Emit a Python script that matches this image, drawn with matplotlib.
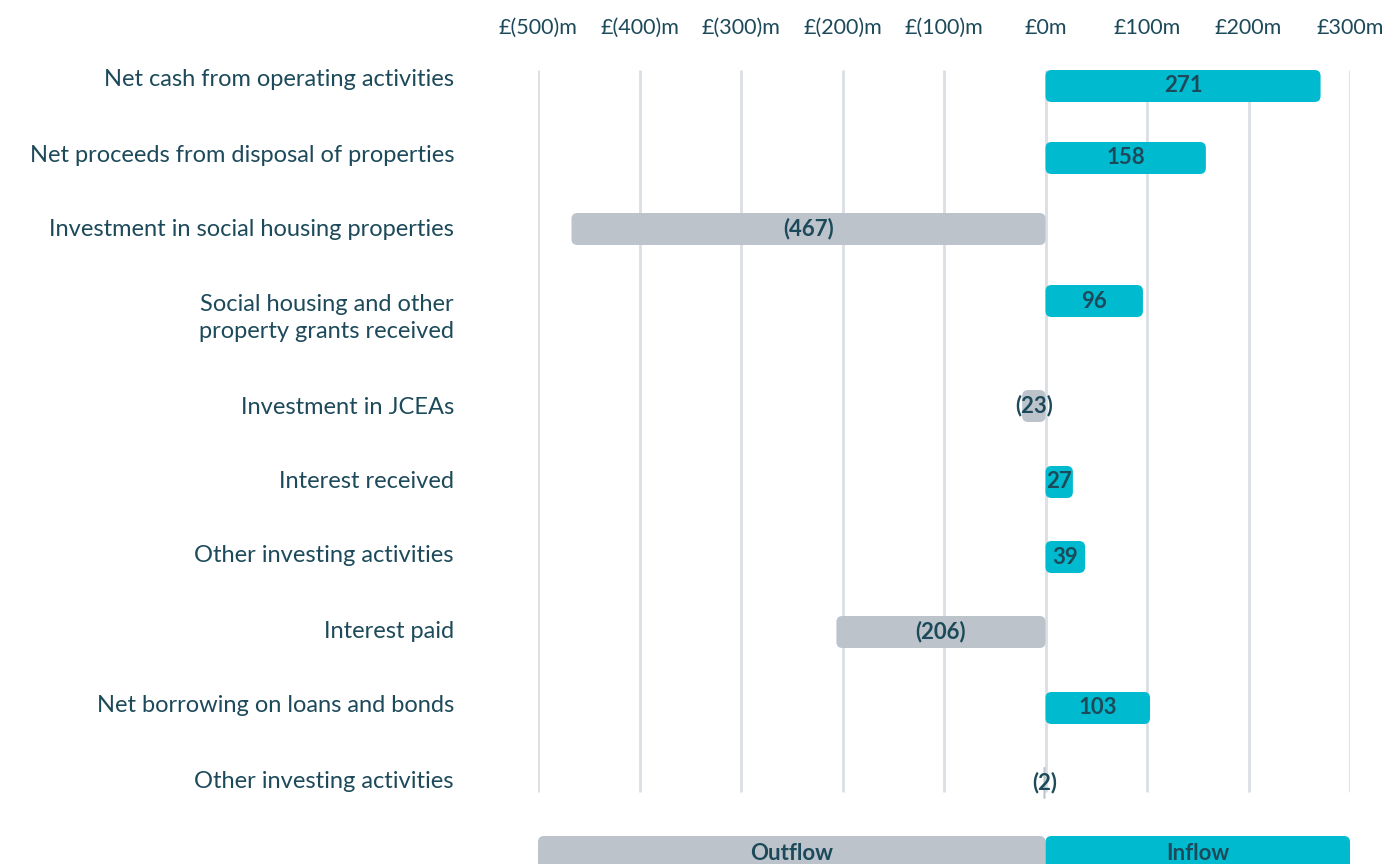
import matplotlib
matplotlib.use("Agg")
import matplotlib.pyplot as plt
from matplotlib.patches import FancyBboxPatch

categories = [
    "Net cash from operating activities",
    "Net proceeds from disposal of properties",
    "Investment in social housing properties",
    "Social housing and other\nproperty grants received",
    "Investment in JCEAs",
    "Interest received",
    "Other investing activities",
    "Interest paid",
    "Net borrowing on loans and bonds",
    "Other investing activities",
]
values = [271, 158, -467, 96, -23, 27, 39, -206, 103, -2]
tick_values = [-500, -400, -300, -200, -100, 0, 100, 200, 300]
tick_labels = ["£(500)m", "£(400)m", "£(300)m", "£(200)m", "£(100)m",
               "£0m", "£100m", "£200m", "£300m"]
legend_labels = ["Outflow", "Inflow"]

# layout (pixel-like units, y downwards)
bar_rows = [86, 158, 229, 301, 406, 482, 557, 632, 708, 783]
label_rows = [80, 155, 229, 318, 407, 482, 556, 631, 706, 781]
bar_h = 32

CYAN = "#00BBD0"
GREY = "#BCC3CB"
TEXT = "#1D4A5A"
GRID = "#DADFE3"
FONT = ["Lato", "DejaVu Sans"]

W, H = 1399, 864
fig = plt.figure(figsize=(W / 100, H / 100), dpi=100)
ax = fig.add_axes([538 / W, 0, 812 / W, 1])
ax.set_xlim(-500, 300)
ax.set_ylim(H, 0)
ax.axis("off")

xpp = 800 / 812  # data x per pixel
r_px = 6


def rbar(x0, width, yc, h, color):
    w = abs(width)
    left = min(x0, x0 + width)
    r = min(r_px * xpp, w / 2)
    p = FancyBboxPatch((left, yc - h / 2), w, h,
                       boxstyle=f"round,pad=0,rounding_size={r}",
                       mutation_aspect=1 / xpp if r > 0 else 1,
                       facecolor=color, edgecolor="none", zorder=3)
    ax.add_patch(p)


# grid
for t in tick_values:
    ax.plot([t, t], [70, 792], color=GRID, lw=2, zorder=1, solid_capstyle="butt")
for t, lab in zip(tick_values, tick_labels):
    ax.text(t, 28, lab, ha="center", va="center", fontsize=15.5, color=TEXT,
            family=FONT)

for v, yb, yl, cat in zip(values, bar_rows, label_rows, categories):
    color = CYAN if v >= 0 else GREY
    rbar(0, v, yb, bar_h, color)
    txt = f"{v}" if v >= 0 else f"({-v})"
    ax.text(v / 2, yb, txt, ha="center", va="center", fontsize=16,
            fontweight="bold", color=TEXT, family=FONT, zorder=4)
    ax.text(-500 - 84 * xpp, yl, cat, ha="right", va="center", fontsize=17,
            color=TEXT, family=FONT, linespacing=1.4, clip_on=False)

# legend bars at bottom
rbar(-500, 500, 858, 44, GREY)
rbar(0, 300, 858, 44, CYAN)
ax.text(-250, 853, legend_labels[0], ha="center", va="center", fontsize=16,
        fontweight="bold", color=TEXT, family=FONT, zorder=4)
ax.text(150, 853, legend_labels[1], ha="center", va="center", fontsize=16,
        fontweight="bold", color=TEXT, family=FONT, zorder=4)

fig.savefig("out.png", dpi=100)
